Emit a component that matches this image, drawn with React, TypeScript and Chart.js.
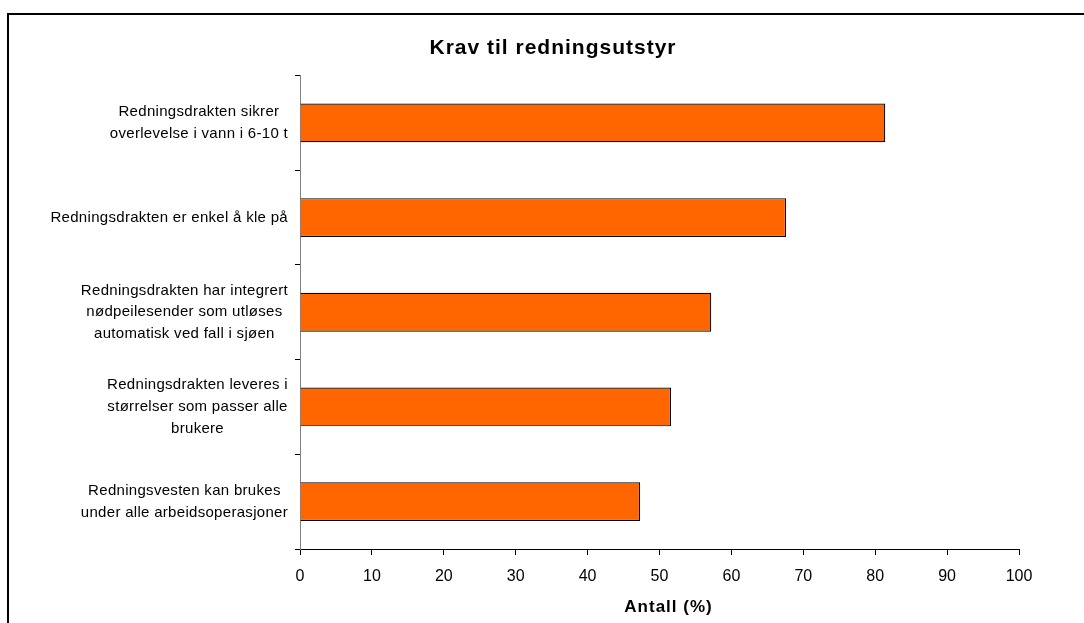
import React, { useEffect, useRef } from "react";
import { Chart, registerables } from "chart.js";

Chart.register(...registerables);

const chartTitle = "Krav til redningsutstyr";
const axisTitle = "Antall (%)";
const categories: string[][] = [
  ["Redningsdrakten sikrer", "overlevelse i vann i 6-10 t"],
  ["Redningsdrakten er enkel å kle på"],
  ["Redningsdrakten har integrert", "nødpeilesender som utløses", "automatisk ved fall i sjøen"],
  ["Redningsdrakten leveres i", "størrelser som passer alle", "brukere"],
  ["Redningsvesten kan brukes", "under alle arbeidsoperasjoner"],
];
const values: number[] = [81.4, 67.6, 57.2, 51.6, 47.3];
const xMin = 0;
const xMax = 100;
const xStep = 10;

const FONT = "'Liberation Sans', Arial, Helvetica, sans-serif";

const framePlugin = {
  id: "frame",
  beforeDraw(chart: any) {
    const ctx = chart.ctx;
    ctx.save();
    ctx.strokeStyle = "#000";
    ctx.lineWidth = 2;
    ctx.beginPath();
    ctx.moveTo(8, chart.height + 2);
    ctx.lineTo(8, 14);
    ctx.lineTo(chart.width + 2, 14);
    ctx.stroke();
    ctx.restore();
  },
};

const textPlugin = {
  id: "texts",
  afterDraw(chart: any) {
    const ctx = chart.ctx;
    const yScale = chart.scales.y;
    const xScale = chart.scales.x;
    ctx.save();
    ctx.fillStyle = "#000";
    ctx.textAlign = "center";
    ctx.textBaseline = "middle";

    // Title
    (ctx as any).letterSpacing = "1px";
    ctx.font = `bold 21px ${FONT}`;
    ctx.fillText(chartTitle, 553, 48);

    // X axis title
    ctx.font = `bold 17px ${FONT}`;
    ctx.fillText(axisTitle, (xScale.left + xScale.right) / 2 + 9, 607);

    // Category labels
    const rightEdge = yScale.right - 12;
    const lh = 21.7;
    (ctx as any).letterSpacing = "0.3px";
    ctx.font = `15px ${FONT}`;
    categories.forEach((lines, i) => {
      const y = yScale.getPixelForValue(i);
      let w = 0;
      lines.forEach((l) => {
        w = Math.max(w, ctx.measureText(l).width);
      });
      const cx = rightEdge - w / 2;
      lines.forEach((l, j) => {
        ctx.fillText(l, cx, y + (j - (lines.length - 1) / 2) * lh);
      });
    });
    ctx.restore();
  },
};

export default function App() {
  const ref = useRef<HTMLCanvasElement | null>(null);

  useEffect(() => {
    if (!ref.current) return;
    const chart = new Chart(ref.current, {
      type: "bar",
      data: {
        labels: categories.map((c) => c.join(" ")),
        datasets: [
          {
            data: values,
            backgroundColor: "#FF6600",
            borderColor: "#000",
            borderWidth: 1.2,
            categoryPercentage: 1,
            barPercentage: 0.41,
          },
        ],
      },
      options: {
        indexAxis: "y",
        animation: false,
        responsive: false,
        devicePixelRatio: 1,
        layout: { padding: { left: 0, right: 65, top: 75.5, bottom: 0 } },
        plugins: {
          legend: { display: false },
          tooltip: { enabled: false },
          title: { display: false },
        },
        scales: {
          x: {
            min: xMin,
            max: xMax,
            ticks: {
              stepSize: xStep,
              color: "#000",
              font: { family: FONT, size: 16 },
              padding: 12,
            },
            grid: {
              drawOnChartArea: false,
              drawTicks: true,
              tickLength: 6,
              color: "#000",
            },
            border: { display: true, color: "#000", width: 1 },
            title: { display: false },
            afterFit: (scale: any) => {
              scale.height = 74;
            },
          },
          y: {
            ticks: { display: false },
            grid: {
              offset: true,
              drawOnChartArea: false,
              drawTicks: true,
              tickLength: 5,
              color: "#000",
            },
            border: { display: true, color: "#808080", width: 1 },
            afterFit: (scale: any) => {
              scale.width = 300;
            },
          },
        },
      },
      plugins: [framePlugin, textPlugin],
    });
    return () => chart.destroy();
  }, []);

  return (
    <div style={{ position: "absolute", left: 0, top: 0, width: 1084, height: 623, background: "#fff" }}>
      <canvas ref={ref} width={1084} height={623} style={{ display: "block" }} />
    </div>
  );
}
